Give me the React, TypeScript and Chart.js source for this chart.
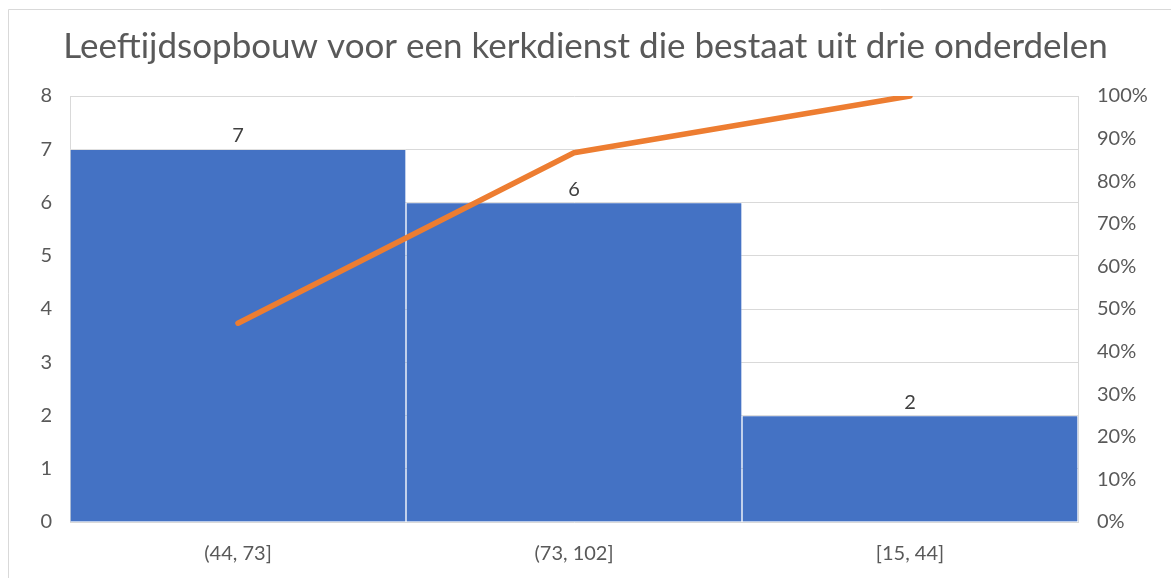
import React, { useEffect, useRef } from "react";
import { Chart, registerables } from "chart.js";

Chart.register(...registerables);

const titleText = "Leeftijdsopbouw voor een kerkdienst die bestaat uit drie onderdelen";
const categories = ["(44, 73]", "(73, 102]", "[15, 44]"];
const counts = [7, 6, 2];
const cumulativeShare = [7 / 15, 13 / 15, 15 / 15];
const leftTicks = [0, 1, 2, 3, 4, 5, 6, 7, 8];

const FONT = "Lato, 'Open Sans', sans-serif";
const TEXT = "#595959";
const GRID = "#d9d9d9";

const framePlugin = {
  id: "frame",
  beforeDraw(chart: any) {
    const ctx = chart.ctx;
    ctx.save();
    ctx.fillStyle = "#ffffff";
    ctx.fillRect(0, 0, chart.width, chart.height);
    ctx.strokeStyle = GRID;
    ctx.lineWidth = 1;
    ctx.beginPath();
    ctx.moveTo(8.5, chart.height);
    ctx.lineTo(8.5, 9.5);
    ctx.lineTo(chart.width, 9.5);
    ctx.stroke();
    ctx.restore();
  },
};

const labelPlugin = {
  id: "barLabels",
  afterDatasetsDraw(chart: any) {
    const ctx = chart.ctx;
    const meta = chart.getDatasetMeta(0);
    ctx.save();
    ctx.fillStyle = "#404040";
    ctx.font = `20px ${FONT}`;
    ctx.textAlign = "center";
    ctx.textBaseline = "alphabetic";
    meta.data.forEach((el: any, i: number) => {
      ctx.fillText(String(counts[i]), el.x, el.y - 7);
    });
    ctx.restore();
  },
};

export default function App() {
  const ref = useRef<HTMLCanvasElement | null>(null);
  useEffect(() => {
    if (!ref.current) return;
    const chart = new Chart(ref.current, {
      type: "bar",
      data: {
        labels: categories,
        datasets: [
          {
            type: "bar",
            data: counts,
            backgroundColor: "#4472C4",
            borderColor: "rgba(255,255,255,0.2)",
            borderWidth: 1,
            barPercentage: 1,
            categoryPercentage: 1,
            yAxisID: "y",
            order: 2,
          } as any,
          {
            type: "line",
            data: cumulativeShare,
            borderColor: "#ED7D31",
            borderWidth: 5.5,
            borderCapStyle: "round",
            borderJoinStyle: "round",
            pointRadius: 0,
            fill: false,
            tension: 0,
            yAxisID: "y1",
            order: 1,
          } as any,
        ],
      },
      plugins: [framePlugin, labelPlugin],
      options: {
        responsive: false,
        animation: false,
        devicePixelRatio: 1,
        layout: { padding: { left: 0, right: 0, top: 0, bottom: 0 } },
        plugins: {
          legend: { display: false },
          tooltip: { enabled: false },
          title: {
            display: true,
            text: titleText,
            color: TEXT,
            font: { family: FONT, size: 35, weight: "normal" },
            padding: { top: 26, bottom: 28 },
          },
        },
        scales: {
          x: {
            offset: true,
            grid: { display: false, drawTicks: false },
            border: { display: false },
            ticks: { color: TEXT, font: { family: FONT, size: 20 }, padding: 20 },
            afterFit(scale: any) {
              scale.height = 56;
            },
          },
          y: {
            position: "left",
            min: 0,
            max: 8,
            afterBuildTicks(scale: any) {
              scale.ticks = leftTicks.map((v) => ({ value: v }));
            },
            grid: { color: GRID, lineWidth: 1, drawTicks: false },
            border: { display: true, color: GRID },
            ticks: { color: TEXT, font: { family: FONT, size: 20 }, padding: 18 },
            afterFit(scale: any) {
              scale.width = 70;
            },
          },
          y1: {
            position: "right",
            min: 0,
            max: 1,
            grid: { display: false, drawTicks: false },
            border: { display: true, color: GRID },
            ticks: {
              stepSize: 0.1,
              color: TEXT,
              font: { family: FONT, size: 20 },
              padding: 19,
              callback: (v: any) => `${Math.round(Number(v) * 100)}%`,
            },
            afterFit(scale: any) {
              scale.width = 93;
            },
          },
        },
      } as any,
    });
    return () => chart.destroy();
  }, []);
  return (
    <div style={{ position: "fixed", left: 0, top: 0, width: 1171, height: 578 }}>
      <canvas ref={ref} width={1171} height={578} style={{ width: 1171, height: 578 }} />
    </div>
  );
}
